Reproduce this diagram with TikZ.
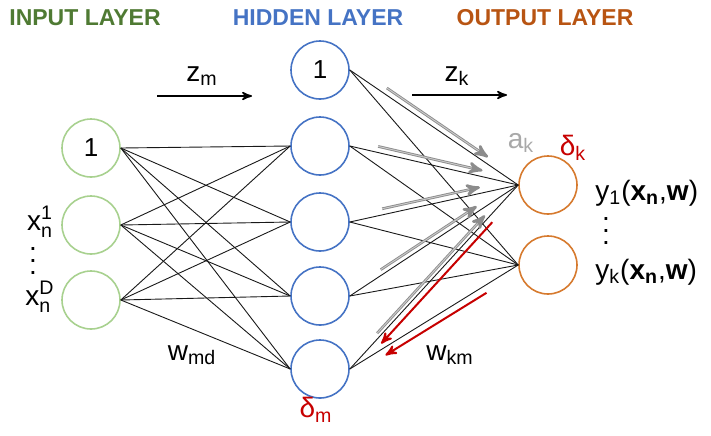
\documentclass[tikz,border=0pt]{standalone}
\usepackage{amsmath}
\usepackage{fontspec}
\setmainfont{Liberation Sans}
\usetikzlibrary{arrows}
\usetikzlibrary{calc}
\definecolor{cgreen}{rgb}{0.31, 0.48, 0.20}
\definecolor{cblue}{rgb}{0.27, 0.45, 0.77}
\definecolor{corange}{rgb}{0.72, 0.33, 0.07}
\definecolor{cpalegreen}{rgb}{0.66, 0.82, 0.56}
\definecolor{cpaleorange}{rgb}{0.84, 0.48, 0.18}
\definecolor{cred}{rgb}{0.78, 0.0, 0.0}
\definecolor{gris}{rgb}{0.55,0.55,0.55}
\newcommand{\tallvdots}{\vbox{\baselineskip 6pt \lineskiplimit 0pt \hbox{.}\hbox{.}\hbox{.}}}
\newcommand{\subsup}[2]{\ensuremath{^{\text{#2}}_{\text{#1}}}}

\begin{document}
\begin{tikzpicture}[x=0.5pt, y=-0.5pt, >=stealth', thin]
  \tikzstyle{unit}=[circle, minimum size=29pt, inner sep=0pt, line width=0.8pt, font=\fontsize{13}{15}\selectfont]
  \tikzstyle{title}=[font=\fontsize{11.5}{13}\selectfont\bfseries]
  \tikzstyle{lbl}=[font=\fontsize{14}{16}\selectfont, inner sep=0pt]
  \tikzstyle{wire}=[draw=black!90, line width=0.45pt]
  \tikzstyle{fwd}=[->, draw=gris, line width=0.45pt, double=gris!45, double distance=0.45pt]
  \tikzstyle{bwd}=[->, draw=cred, line width=1pt]

	\useasboundingbox (0,0) rectangle (711,435);

	% layer titles
	\node[title, text=cgreen]  (Tin)  at (85,18)  {INPUT LAYER};
	\node[title, text=cblue]   (Thid) at (318,18) {HIDDEN LAYER};
	\node[title, text=corange] (Tout) at (545,18) {OUTPUT LAYER};

	\node[unit, draw=cpalegreen] (I1) at (91,148) {1};
	\node[unit, draw=cpalegreen] (I2) at (91,225) {};
	\node[unit, draw=cpalegreen] (I3) at (91,300) {};

	\node[unit, draw=cblue] (H1) at (320,70) {1};
	\node[unit, draw=cblue] (H2) at (320,146) {};
	\node[unit, draw=cblue] (H3) at (320,222) {};
	\node[unit, draw=cblue] (H4) at (320,296) {};
	\node[unit, draw=cblue] (H5) at (320,369) {};

	\node[unit, draw=cpaleorange] (O1) at (548,185) {};
	\node[unit, draw=cpaleorange] (O2) at (548,265) {};

	\path[wire]
		(I1.east) edge (H2.west)
		(I1.east) edge (H3.west)
		(I1.east) edge (H4.west)
		(I1.east) edge (H5.west)
		(I2.east) edge (H2.west)
		(I2.east) edge (H3.west)
		(I2.east) edge (H4.west)
		(I2.east) edge (H5.west)
		(I3.east) edge (H2.west)
		(I3.east) edge (H3.west)
		(I3.east) edge (H4.west)
		(I3.east) edge (H5.west)
		(H1.east) edge (O1.west)
		(H2.east) edge (O1.west)
		(H3.east) edge (O1.west)
		(H4.east) edge (O1.west)
		(H5.east) edge (O1.west)
		(H1.east) edge (O2.west)
		(H2.east) edge (O2.west)
		(H3.east) edge (O2.west)
		(H4.east) edge (O2.west)
		(H5.east) edge (O2.west)
		;

	% forward pass into the first output, backward pass into the last hidden unit
	\draw[fwd] ($(H1.east)!0.2!(O1.west)!3pt!90:(O1.west)$) -- ($(H1.east)!0.8!(O1.west)!3pt!90:(O1.west)$);
	\draw[fwd] ($(H2.east)!0.16!(O1.west)!3pt!90:(O1.west)$) -- ($(H2.east)!0.78!(O1.west)!3pt!90:(O1.west)$);
	\draw[fwd] ($(H3.east)!0.2!(O1.west)!3pt!90:(O1.west)$) -- ($(H3.east)!0.78!(O1.west)!3pt!90:(O1.west)$);
	\draw[fwd] ($(H4.east)!0.2!(O1.west)!2.5pt!90:(O1.west)$) -- ($(H4.east)!0.77!(O1.west)!2.5pt!90:(O1.west)$);
	\draw[fwd] ($(H5.east)!0.18!(O1.west)!2pt!90:(O1.west)$) -- ($(H5.east)!0.82!(O1.west)!2pt!90:(O1.west)$);
	\draw[bwd] ($(H5.east)!0.82!(O1.west)!3pt!-90:(O1.west)$) -- ($(H5.east)!0.16!(O1.west)!3pt!-90:(O1.west)$);
	\draw[bwd] ($(H5.east)!0.79!(O2.west)!3.5pt!-90:(O2.west)$) -- ($(H5.east)!0.19!(O2.west)!3.5pt!-90:(O2.west)$);

	% flow arrows
	\coordinate (Zm0) at (157,96);
	\coordinate (Zm1) at (252,96);
	\coordinate (Zk0) at (412,95);
	\coordinate (Zk1) at (507,95);
	\draw[->, line width=0.8pt] (Zm0) -- (Zm1);
	\draw[->, line width=0.8pt] (Zk0) -- (Zk1);

	\node[lbl] (Lzm) at (202,76) {z\textsubscript{m}};
	\node[lbl] (Lzk) at (457,76) {z\textsubscript{k}};
	\node[lbl, text=gris!75] (Lak) at (521,143) {a\textsubscript{k}};
	\node[lbl, text=cred] (Ldk) at (573,148) {δ\textsubscript{k}};
	\node[lbl, text=cred] (Ldm) at (316,410) {δ\textsubscript{m}};
	\node[lbl] (Lwmd) at (192,355) {w\textsubscript{md}};
	\node[lbl] (Lwkm) at (450,355) {w\textsubscript{km}};

	\node[lbl] (Lx1) at (40,222) {x\subsup{n}{1}};
	\node[lbl] (Lxd) at (40,297) {x\subsup{n}{D}};
	\node[lbl] (Ldin) at (33,261) {\tallvdots};

	\node[lbl, anchor=west] (Ly1) at (595,193) {y\textsubscript{1}(\textbf{x\textsubscript{n}},\textbf{w})};
	\node[lbl, anchor=west] (Lyk) at (595,272) {y\textsubscript{k}(\textbf{x\textsubscript{n}},\textbf{w})};
	\node[lbl] (Ldout) at (606,231) {\tallvdots};

\end{tikzpicture}
\end{document}
